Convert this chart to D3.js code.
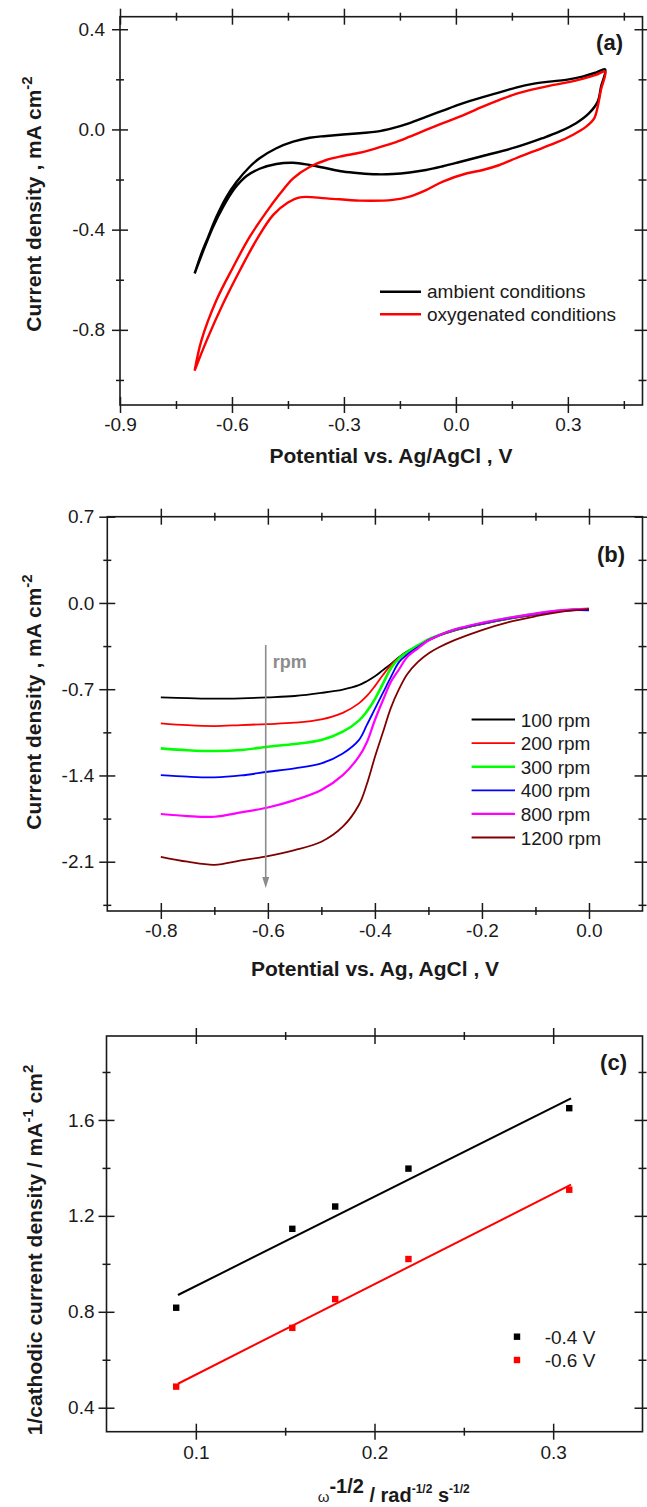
<!DOCTYPE html>
<html>
<head>
<meta charset="utf-8">
<script src="https://cdn.jsdelivr.net/npm/d3@7"></script>
<style>
  body { margin: 0; background: #fff; }
  svg { display: block; font-family: "Liberation Sans", Arial, sans-serif; }
</style>
</head>
<body>
<svg id="fig" width="647" height="1507"></svg>
<script>
// ---- (a) cyclic voltammograms, loop: anodic branch then cathodic branch
const ambientV = [-0.70, -0.682, -0.664, -0.642, -0.615, -0.588, -0.553, -0.526, -0.481, -0.436, -0.392, -0.347, -0.258, -0.213, -0.169, -0.124, -0.08, -0.035, 0.01, 0.072, 0.117, 0.161, 0.206, 0.25, 0.295, 0.339, 0.375, 0.40,
  0.389, 0.38, 0.357, 0.322, 0.277, 0.232, 0.161, 0.072, 0.01, -0.035, -0.08, -0.124, -0.169, -0.213, -0.258, -0.303, -0.347, -0.392, -0.436, -0.481, -0.526, -0.561, -0.593, -0.624, -0.651, -0.673, -0.70];
const ambientJ = [-0.575, -0.496, -0.43, -0.35, -0.27, -0.21, -0.15, -0.115, -0.075, -0.049, -0.033, -0.026, -0.015, -0.009, 0.005, 0.025, 0.05, 0.075, 0.10, 0.129, 0.148, 0.167, 0.182, 0.191, 0.198, 0.211, 0.227, 0.24,
  0.171, 0.111, 0.065, 0.025, -0.009, -0.035, -0.071, -0.106, -0.13, -0.147, -0.162, -0.172, -0.178, -0.179, -0.175, -0.168, -0.155, -0.142, -0.133, -0.138, -0.157, -0.186, -0.236, -0.31, -0.39, -0.47, -0.575];
const oxyV = [-0.70, -0.682, -0.642, -0.597, -0.553, -0.508, -0.472, -0.436, -0.392, -0.347, -0.303, -0.258, -0.213, -0.169, -0.124, -0.08, -0.035, 0.01, 0.072, 0.117, 0.161, 0.206, 0.25, 0.295, 0.339, 0.375, 0.40,
  0.389, 0.38, 0.371, 0.349, 0.313, 0.268, 0.206, 0.161, 0.117, 0.072, 0.03, -0.035, -0.08, -0.124, -0.169, -0.258, -0.347, -0.418, -0.45, -0.49, -0.535, -0.579, -0.624, -0.668, -0.70];
const oxyJ = [-0.963, -0.843, -0.683, -0.55, -0.43, -0.33, -0.258, -0.195, -0.15, -0.122, -0.106, -0.093, -0.075, -0.055, -0.029, -0.002, 0.025, 0.051, 0.091, 0.118, 0.142, 0.16, 0.174, 0.187, 0.202, 0.218, 0.231,
  0.16, 0.091, 0.045, 0.011, -0.022, -0.053, -0.089, -0.115, -0.142, -0.162, -0.175, -0.208, -0.242, -0.268, -0.281, -0.284, -0.275, -0.271, -0.292, -0.342, -0.443, -0.563, -0.696, -0.843, -0.963];
const cvLabels = ["ambient conditions", "oxygenated conditions"];

// ---- (b) linear sweeps at several rotation rates
const lsvV = [-0.80, -0.75, -0.70, -0.65, -0.60, -0.55, -0.50, -0.46, -0.43, -0.415, -0.40, -0.385, -0.37, -0.355, -0.34, -0.32, -0.30, -0.28, -0.25, -0.20, -0.15, -0.10, -0.05, 0.00];
const lsv100 = [-0.766, -0.772, -0.777, -0.774, -0.766, -0.755, -0.73, -0.703, -0.667, -0.635, -0.595, -0.545, -0.495, -0.44, -0.395, -0.35, -0.305, -0.265, -0.222, -0.172, -0.13, -0.095, -0.065, -0.05];
const lsv200 = [-0.977, -0.992, -0.999, -0.991, -0.983, -0.972, -0.945, -0.892, -0.815, -0.755, -0.675, -0.585, -0.505, -0.445, -0.40, -0.35, -0.30, -0.262, -0.22, -0.17, -0.127, -0.092, -0.062, -0.048];
const lsv300 = [-1.18, -1.195, -1.202, -1.194, -1.167, -1.145, -1.113, -1.045, -0.955, -0.88, -0.78, -0.655, -0.53, -0.45, -0.40, -0.345, -0.295, -0.26, -0.215, -0.165, -0.123, -0.088, -0.06, -0.047];
const lsv400 = [-1.397, -1.41, -1.415, -1.40, -1.37, -1.342, -1.302, -1.221, -1.113, -0.99, -0.86, -0.73, -0.60, -0.48, -0.42, -0.36, -0.30, -0.262, -0.217, -0.167, -0.125, -0.09, -0.062, -0.06];
const lsv800 = [-1.713, -1.73, -1.735, -1.70, -1.66, -1.60, -1.518, -1.397, -1.248, -1.13, -0.95, -0.79, -0.64, -0.54, -0.44, -0.37, -0.305, -0.262, -0.214, -0.162, -0.12, -0.086, -0.058, -0.047];
const lsv1200 = [-2.06, -2.10, -2.125, -2.09, -2.054, -2.005, -1.938, -1.816, -1.64, -1.47, -1.25, -1.05, -0.85, -0.70, -0.58, -0.48, -0.41, -0.36, -0.30, -0.22, -0.155, -0.108, -0.07, -0.05];
const rpmLabels = ["100 rpm", "200 rpm", "300 rpm", "400 rpm", "800 rpm", "1200 rpm"];

// ---- (c) Koutecky-Levich points and fits
const klX = [0.089, 0.154, 0.178, 0.219, 0.309];
const kl04 = [0.817, 1.146, 1.239, 1.397, 1.649];
const kl06 = [0.488, 0.733, 0.853, 1.020, 1.309];
const fitX = [0.09, 0.31];
const fit04 = [0.87, 1.69];
const fit06 = [0.50, 1.33];
const klLabels = ["-0.4 V", "-0.6 V"];

const svg = d3.select("#fig");
const fmt1 = v => (Math.abs(v) < 1e-9 ? 0 : v).toFixed(1);
const ink = "#1a1a1a";

function makePanel(p) {
  const x = d3.scaleLinear().domain(p.xDomain).range([p.left, p.right]);
  const y = d3.scaleLinear().domain(p.yDomain).range([p.bottom, p.top]);
  const g = svg.append("g");

  const addAxis = (axis, tx, ty, size, values, fmt, pad) => {
    const a = g.append("g")
      .attr("transform", `translate(${tx},${ty})`)
      .call(axis.tickValues(values).tickSize(size).tickPadding(pad || 0).tickFormat(fmt || (() => "")));
    a.select(".domain").remove();
    a.selectAll("line").attr("stroke", ink).attr("stroke-width", 1.5);
    a.selectAll("text").attr("font-size", 19).attr("fill", ink)
      .attr("font-family", '"Liberation Sans", Arial, sans-serif');
  };
  // ticks cross the frame (in and out)
  addAxis(d3.axisBottom(x), 0, p.bottom - 8, 16, p.xMajor, fmt1, p.xPad);
  addAxis(d3.axisBottom(x), 0, p.bottom - 4, 8, p.xMinor);
  addAxis(d3.axisTop(x), 0, p.top + 8, 16, p.xMajor);
  addAxis(d3.axisTop(x), 0, p.top + 4, 8, p.xMinor);
  addAxis(d3.axisLeft(y), p.left + 8, 0, 16, p.yMajor, fmt1, p.yPad);
  addAxis(d3.axisLeft(y), p.left + 4, 0, 8, p.yMinor);
  addAxis(d3.axisRight(y), p.right - 8, 0, 16, p.yMajor);
  addAxis(d3.axisRight(y), p.right - 4, 0, 8, p.yMinor);

  g.append("rect")
    .attr("x", p.left).attr("y", p.top)
    .attr("width", p.right - p.left).attr("height", p.bottom - p.top)
    .attr("fill", "none").attr("stroke", ink).attr("stroke-width", 1.6);

  g.append("text")
    .attr("x", p.tagX).attr("y", p.tagY)
    .attr("text-anchor", "end").attr("font-size", 22).attr("font-weight", "bold")
    .attr("fill", ink).text(p.tag);
  return { x, y, g };
}

function yTitle(cx, cy, parts) {
  const t = svg.append("text")
    .attr("transform", `translate(${cx},${cy}) rotate(-90)`)
    .attr("text-anchor", "middle").attr("font-weight", "bold").attr("fill", ink);
  parts.forEach(([s, size, dy]) => t.append("tspan").attr("font-size", size).attr("dy", dy).text(s));
}

// ================= (a)
const A = makePanel({
  left: 120, right: 642.5, top: 16.7, bottom: 405,
  xDomain: [-0.9, 0.5], yDomain: [-1.1, 0.45],
  xMajor: [-0.9, -0.6, -0.3, 0, 0.3], xMinor: [-0.75, -0.45, -0.15, 0.15, 0.45],
  yMajor: [-0.8, -0.4, 0, 0.4], yMinor: [-1.0, -0.6, -0.2, 0.2],
  xPad: 5, yPad: 7, tag: "(a)", tagX: 623, tagY: 50
});
const cvLine = d3.line().x(d => A.x(d[0])).y(d => A.y(d[1])).curve(d3.curveCatmullRom.alpha(0.5));
[[ambientV, ambientJ, "#000"], [oxyV, oxyJ, "#ff0000"]].forEach(([v, j, c]) => {
  A.g.append("path").datum(d3.zip(v, j))
    .attr("d", cvLine).attr("fill", "none").attr("stroke", c).attr("stroke-width", 2.4)
    .attr("stroke-linejoin", "round");
});
cvLabels.forEach((lab, i) => {
  const ly = 291.7 + i * 22.5;
  A.g.append("line").attr("x1", 380).attr("x2", 421).attr("y1", ly).attr("y2", ly)
    .attr("stroke", i ? "#ff0000" : "#000").attr("stroke-width", 2.4);
  A.g.append("text").attr("x", 427).attr("y", ly + 6.5).attr("font-size", 19).attr("fill", ink).text(lab);
});
svg.append("text").attr("x", 391).attr("y", 463).attr("text-anchor", "middle")
  .attr("font-size", 21).attr("font-weight", "bold").attr("fill", ink).text("Potential vs. Ag/AgCl , V");
yTitle(41, 204, [["Current density , mA cm", 21, 0], ["-2", 15, -9]]);

// ================= (b)
const B = makePanel({
  left: 107.3, right: 642.5, top: 516.7, bottom: 911,
  xDomain: [-0.9, 0.1], yDomain: [-2.5, 0.7],
  xMajor: [-0.8, -0.6, -0.4, -0.2, 0.0], xMinor: [-0.7, -0.5, -0.3, -0.1],
  yMajor: [-2.1, -1.4, -0.7, 0.0, 0.7], yMinor: [-2.45, -1.75, -1.05, -0.35, 0.35],
  xPad: 5, yPad: 5, tag: "(b)", tagX: 625, tagY: 562
});
const rpmColors = ["#000000", "#ff0000", "#00ff00", "#0000ff", "#ff00ff", "#800000"];
const rpmWidths = [1.8, 1.8, 2.6, 1.8, 2.2, 1.8];
const lsvLine = d3.line().x(d => B.x(d[0])).y(d => B.y(d[1])).curve(d3.curveCatmullRom.alpha(0.5));
[lsv100, lsv200, lsv300, lsv400, lsv800, lsv1200].forEach((s, i) => {
  B.g.append("path").datum(d3.zip(lsvV, s))
    .attr("d", lsvLine).attr("fill", "none")
    .attr("stroke", rpmColors[i]).attr("stroke-width", rpmWidths[i]);
});
// rpm arrow
const arrowV = -0.604, arrowTop = -0.341, arrowTip = -2.314;
B.g.append("line").attr("x1", B.x(arrowV)).attr("x2", B.x(arrowV))
  .attr("y1", B.y(arrowTop)).attr("y2", B.y(arrowTip) - 8)
  .attr("stroke", "#8c8c8c").attr("stroke-width", 1.6);
B.g.append("path")
  .attr("d", `M${B.x(arrowV) - 3.5},${B.y(arrowTip) - 11}L${B.x(arrowV) + 3.5},${B.y(arrowTip) - 11}L${B.x(arrowV)},${B.y(arrowTip)}Z`)
  .attr("fill", "#8c8c8c");
B.g.append("text").attr("x", B.x(arrowV) + 7).attr("y", 668).attr("font-size", 18)
  .attr("font-weight", "bold").attr("fill", "#8c8c8c").text("rpm");
rpmLabels.forEach((lab, i) => {
  const ly = 719.5 + i * 23.6;
  B.g.append("line").attr("x1", 471.6).attr("x2", 515).attr("y1", ly).attr("y2", ly)
    .attr("stroke", rpmColors[i]).attr("stroke-width", rpmWidths[i]);
  B.g.append("text").attr("x", 520.7).attr("y", ly + 7).attr("font-size", 19).attr("fill", ink).text(lab);
});
svg.append("text").attr("x", 375).attr("y", 976).attr("text-anchor", "middle")
  .attr("font-size", 21).attr("font-weight", "bold").attr("fill", ink).text("Potential vs. Ag, AgCl , V");
yTitle(41, 702, [["Current density , mA cm", 21, 0], ["-2", 15, -9]]);

// ================= (c)
const C = makePanel({
  left: 106.5, right: 642.5, top: 1036, bottom: 1431.7,
  xDomain: [0.05, 0.35], yDomain: [0.3, 1.95],
  xMajor: [0.1, 0.2, 0.3], xMinor: [0.15, 0.25],
  yMajor: [0.4, 0.8, 1.2, 1.6], yMinor: [0.6, 1.0, 1.4, 1.8],
  xPad: 6, yPad: 4, tag: "(c)", tagX: 627, tagY: 1070
});
const klColors = ["#000000", "#ff0000"];
[[fit04, kl04], [fit06, kl06]].forEach(([fit, pts], i) => {
  C.g.append("line")
    .attr("x1", C.x(fitX[0])).attr("y1", C.y(fit[0]))
    .attr("x2", C.x(fitX[1])).attr("y2", C.y(fit[1]))
    .attr("stroke", klColors[i]).attr("stroke-width", 2);
  C.g.selectAll(null).data(d3.zip(klX, pts)).join("rect")
    .attr("x", d => C.x(d[0]) - 3.2).attr("y", d => C.y(d[1]) - 3.2)
    .attr("width", 6.4).attr("height", 6.4).attr("fill", klColors[i]);
});
klLabels.forEach((lab, i) => {
  const ly = 1336.7 + i * 23.3;
  C.g.append("rect").attr("x", 517 - 3.2).attr("y", ly - 3.2).attr("width", 6.4).attr("height", 6.4)
    .attr("fill", klColors[i]);
  C.g.append("text").attr("x", 544.7).attr("y", ly + 7).attr("font-size", 19).attr("fill", ink).text(lab);
});
const xt = svg.append("text").attr("x", 317.7).attr("y", 1502).attr("fill", ink);
[["ω", 15, "normal", 0], ["-1/2", 20, "bold", -9], [" / rad", 20, "bold", 9],
 ["-1/2", 12, "bold", -9], [" s", 20, "bold", 9], ["-1/2", 12, "bold", -9]]
  .forEach(([s, size, w, dy]) => xt.append("tspan").attr("font-size", size)
    .attr("font-weight", w).attr("dy", dy).text(s));
yTitle(42, 1250, [["1/cathodic current density / mA", 21, 0], ["-1", 15, -9], [" cm", 21, 9], ["2", 15, -9]]);
</script>
</body>
</html>
